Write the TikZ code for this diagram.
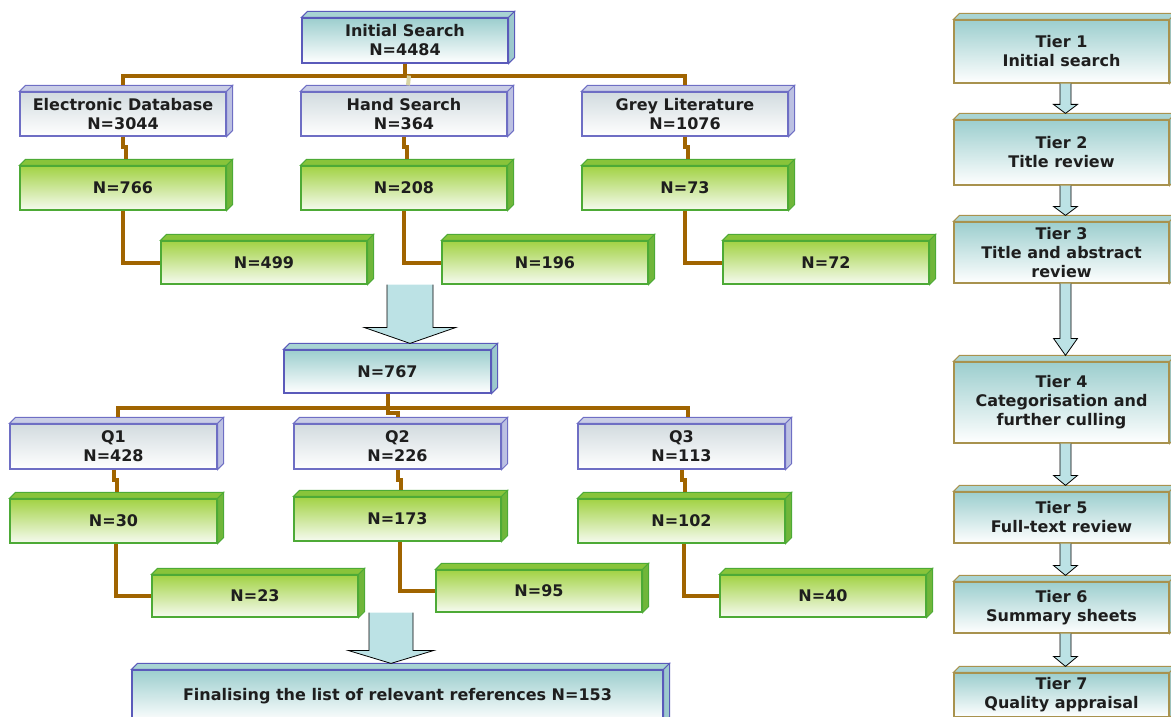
\documentclass[tikz,border=0pt]{standalone}
\usepackage{fontspec}
\setmainfont{DejaVu Sans}
\usepackage{tikz}
\usetikzlibrary{positioning, calc}

\definecolor{txt}{HTML}{1E1E1E}
\definecolor{srcline}{HTML}{6E6EC4}
\definecolor{srctop}{HTML}{D2DBDF}
\definecolor{srcface}{HTML}{C9CDE6}
\definecolor{srcside}{HTML}{BCC1E2}
\definecolor{grnline}{HTML}{4DAA36}
\definecolor{grntop}{HTML}{A2D244}
\definecolor{grnbot}{HTML}{F6FBF0}
\definecolor{grnface}{HTML}{88C43A}
\definecolor{grnside}{HTML}{70B63A}
\definecolor{tealline}{HTML}{5A5ABA}
\definecolor{tealtop}{HTML}{9CCECE}
\definecolor{tealface}{HTML}{A8D4D3}
\definecolor{tealside}{HTML}{9CC9CD}
\definecolor{tierline}{HTML}{A8924E}
\definecolor{linkbrown}{HTML}{A06400}
\definecolor{paleseg}{HTML}{D8D4A4}
\definecolor{arrowfill}{HTML}{BCE2E5}

\tikzset{
  every node/.style={font=\fontsize{16}{19}\selectfont\bfseries, text=txt, align=center, inner sep=0pt, line width=1.2pt},
  srcbox/.style={draw=srcline, top color=srctop, bottom color=white, minimum width=206, minimum height=44},
  grnbox/.style={draw=grnline, top color=grntop, bottom color=grnbot, minimum width=206, minimum height=44},
  tealbox/.style={draw=tealline, top color=tealtop, bottom color=white},
  tierbox/.style={tealbox, draw=tierline, minimum width=215},
  link/.style={draw=linkbrown, line width=4pt},
  fatarrow/.style={draw=black, fill=arrowfill, line width=0.8pt},
  srcf/.style={fill=srcface, draw=srcline, line width=1pt},
  srcs/.style={fill=srcside, draw=srcline, line width=1pt},
  grnf/.style={fill=grnface, draw=grnline, line width=1pt},
  grns/.style={fill=grnside, draw=grnline, line width=1pt},
  tealf/.style={fill=tealface, draw=tealline, line width=1pt},
  teals/.style={fill=tealside, draw=tealline, line width=1pt},
  tierf/.style={fill=tealface, draw=tierline, line width=1pt},
  tiers/.style={fill=tealside, draw=tierline, line width=1pt}
}

% top and right faces of a box
\newcommand{\boxfaces}[3]{%
  \filldraw[#2] (#1.north west) -- ++(6pt,6pt) -- ([shift={(6pt,6pt)}]#1.north east) -- (#1.north east) -- cycle;
  \filldraw[#3] (#1.north east) -- ++(6pt,6pt) -- ([shift={(6pt,6pt)}]#1.south east) -- (#1.south east) -- cycle;}

% #1 start, #2 tip, #3 half shaft, #4 half head, #5 head length
\newcommand{\fatarrow}[5]{%
  \draw[fatarrow] let \p1=#1, \p2=#2 in
    (\x2-#3,\y1) -- (\x2-#3,\y2+#5) -- (\x2-#4,\y2+#5) -- (\p2) -- (\x2+#4,\y2+#5) -- (\x2+#3,\y2+#5) -- (\x2+#3,\y1);}

\begin{document}
\begin{tikzpicture}[x=1pt, y=-1pt]
\useasboundingbox (0,0) rectangle (1171,717);
\clip (0,0) rectangle (1171,717);

% search tree
\node[tealbox, minimum width=206, minimum height=45] (init) at (405,40.5) {Initial Search\\N=4484};
\node[srcbox] (edb) at (123,114) {Electronic Database\\N=3044};
\node[srcbox] (hand) at (404,114) {Hand Search\\N=364};
\node[srcbox] (grey) at (685,114) {Grey Literature\\N=1076};
\node[grnbox] (g766) at (123,188) {N=766};
\node[grnbox] (g208) at (404,188) {N=208};
\node[grnbox] (g73) at (685,188) {N=73};
\node[grnbox, minimum height=43] (g499) at (264,262.5) {N=499};
\node[grnbox, minimum height=43] (g196) at (545,262.5) {N=196};
\node[grnbox, minimum height=43] (g72) at (826,262.5) {N=72};

\node[tealbox, minimum width=207, minimum height=43] (n767) at (387.5,371.5) {N=767};
\node[srcbox, minimum width=207, minimum height=45] (q1) at (113.5,446.5) {Q1\\N=428};
\node[srcbox, minimum width=207, minimum height=45] (q2) at (397.5,446.5) {Q2\\N=226};
\node[srcbox, minimum width=207, minimum height=45] (q3) at (681.5,446.5) {Q3\\N=113};
\node[grnbox, minimum width=207] (g30) at (113.5,521) {N=30};
\node[grnbox, minimum width=207] (g173) at (397.5,519) {N=173};
\node[grnbox, minimum width=207] (g102) at (681.5,521) {N=102};
\node[grnbox, minimum height=42] (g23) at (255,596) {N=23};
\node[grnbox, minimum height=42] (g95) at (539,591) {N=95};
\node[grnbox, minimum height=42] (g40) at (823,596) {N=40};
\node[tealbox, minimum width=531, minimum height=52] (final) at (397.5,696) {Finalising the list of relevant references N=153};

% tiers
\node[tierbox, minimum height=63] (t1) at (1061.5,51.5) {Tier 1\\Initial search};
\node[tierbox, minimum height=65] (t2) at (1061.5,152.5) {Tier 2\\Title review};
\node[tierbox, minimum height=61] (t3) at (1061.5,252.5) {Tier 3\\Title and abstract\\review};
\node[tierbox, minimum height=81] (t4) at (1061.5,402.5) {Tier 4\\Categorisation and\\further culling};
\node[tierbox, minimum height=51] (t5) at (1061.5,517.5) {Tier 5\\Full-text review};
\node[tierbox, minimum height=51] (t6) at (1061.5,607.5) {Tier 6\\Summary sheets};
\node[tierbox, minimum height=44] (t7) at (1061.5,695) {Tier 7\\Quality appraisal};

\foreach \n in {edb,hand,grey,q1,q2,q3} {\boxfaces{\n}{srcf}{srcs}}
\foreach \n in {g766,g208,g73,g499,g196,g72,g30,g173,g102,g23,g95,g40} {\boxfaces{\n}{grnf}{grns}}
\foreach \n in {init,n767,final} {\boxfaces{\n}{tealf}{teals}}
\foreach \n in {t1,t2,t3,t4,t5,t6,t7} {\boxfaces{\n}{tierf}{tiers}}

% connectors
\draw[link] (init.south) -- ++(0,12) -| ([yshift=6pt]edb.north);
\draw[link] (init.south) -- ++(0,12) -| ([yshift=6pt]grey.north);
\draw[link, draw=paleseg] ([xshift=4pt,yshift=-12pt]init.south) -- ([xshift=4pt,yshift=6pt]hand.north);
\foreach \a/\b/\c in {edb/g766/g499, hand/g208/g196, grey/g73/g72} {
  \draw[link] (\a.south) -- ++(0,10) -- ++(3,0) -- ([xshift=3pt,yshift=6pt]\b.north);
  \draw[link] (\b.south) |- (\c.west);
}
\draw[link] (n767.south) -- ++(0,14) -| ([xshift=4pt,yshift=6pt]q1.north);
\draw[link] (n767.south) -- ++(0,14) -| ([xshift=6pt,yshift=6pt]q3.north);
\draw[link] (n767.south) -- ++(0,19) -| ([yshift=6pt]q2.north);
\foreach \a/\b/\c in {q1/g30/g23, q2/g173/g95, q3/g102/g40} {
  \draw[link] (\a.south) -- ++(0,10) -- ++(3,0) -- ([xshift=3pt,yshift=6pt]\b.north);
  \draw[link] ([xshift=2pt]\b.south) |- (\c.west);
}

% arrows
\fatarrow{(g499.south)}{([xshift=22.5pt,yshift=6pt]n767.north)}{23}{46}{16}
\fatarrow{(g95.south)}{([xshift=-6.5pt,yshift=6pt]final.north)}{22}{43}{13}
\fatarrow{(t1.south)}{([xshift=4pt,yshift=6pt]t2.north)}{5.5}{12}{9}
\fatarrow{(t2.south)}{([xshift=4pt,yshift=6pt]t3.north)}{5.5}{12}{9}
\fatarrow{(t3.south)}{([xshift=4pt,yshift=6pt]t4.north)}{5.5}{12}{17}
\fatarrow{(t4.south)}{([xshift=4pt,yshift=6pt]t5.north)}{5.5}{12}{10}
\fatarrow{(t5.south)}{([xshift=4pt,yshift=6pt]t6.north)}{5.5}{12}{10}
\fatarrow{(t6.south)}{([xshift=4pt,yshift=6pt]t7.north)}{5.5}{12}{10}
\end{tikzpicture}
\end{document}
